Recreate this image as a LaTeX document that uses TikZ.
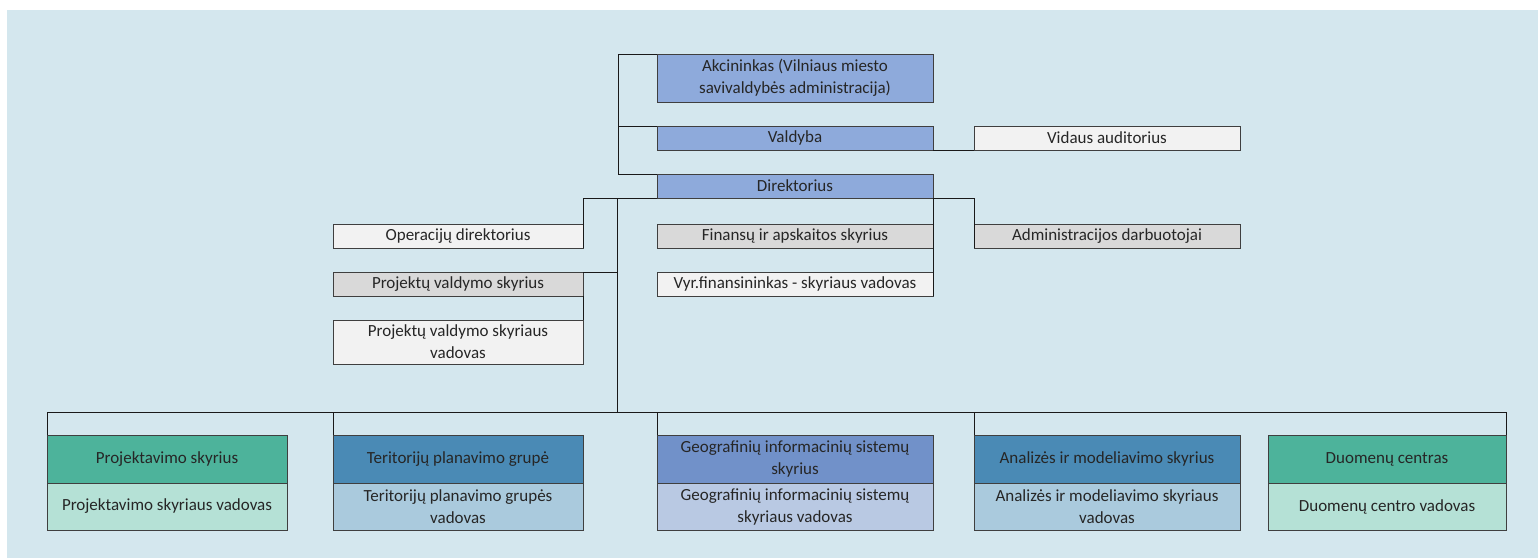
\documentclass[tikz,border=0pt]{standalone}
\usepackage{fontspec}
\setmainfont{Carlito}
\usetikzlibrary{calc}
\definecolor{bgblue}{HTML}{D4E7EE}
\definecolor{topblue}{HTML}{8EAADB}
\definecolor{wbox}{HTML}{F2F2F2}
\definecolor{gbox}{HTML}{D9D9D9}
\definecolor{teal1}{HTML}{4DB39B}
\definecolor{teal2}{HTML}{B5E1D6}
\definecolor{steel1}{HTML}{4A8AB5}
\definecolor{steel2}{HTML}{AACADD}
\definecolor{geo1}{HTML}{7191C9}
\definecolor{geo2}{HTML}{B9C9E3}
\definecolor{bordc}{HTML}{3F3F3F}
\definecolor{txt}{HTML}{262626}
\tikzset{
  box/.style={draw=bordc, line width=0.75pt, inner sep=0pt, outer sep=0pt,
    anchor=north west, align=center, text=txt,
    font=\fontsize{12.75pt}{16.5pt}\selectfont},
  conn/.style={draw=black!90, line width=0.75pt},
}
\begin{document}
\begin{tikzpicture}[x=0.75pt, y=-0.75pt]
\useasboundingbox (0,0) rectangle (1538,558);
\fill[white] (0,0) rectangle (1538,558);
\fill[bgblue] (7,10) rectangle (1538,558);

% top chain
\node[box, fill=topblue, minimum width=207pt, minimum height=36pt] (akc) at (657,54) {Akcininkas (Vilniaus miesto\\savivaldybės administracija)};
\node[box, fill=topblue, minimum width=207pt, minimum height=18pt] (val) at (657,126) {Valdyba};
\node[box, fill=wbox, minimum width=199.5pt, minimum height=18pt] (vid) at (974,126) {Vidaus auditorius};
\node[box, fill=topblue, minimum width=207pt, minimum height=18pt] (dir) at (657,174) {Direktorius};

% middle
\node[box, fill=wbox, minimum width=187.5pt, minimum height=18pt] (ope) at (333,224) {Operacijų direktorius};
\node[box, fill=gbox, minimum width=207pt, minimum height=18pt] (fin) at (657,224) {Finansų ir apskaitos skyrius};
\node[box, fill=gbox, minimum width=199.5pt, minimum height=18pt] (adm) at (974,224) {Administracijos darbuotojai};
\node[box, fill=gbox, minimum width=187.5pt, minimum height=18pt] (pvs) at (333,272) {Projektų valdymo skyrius};
\node[box, fill=wbox, minimum width=207pt, minimum height=18pt] (vyr) at (657,272) {Vyr.finansininkas - skyriaus vadovas};
\node[box, fill=wbox, minimum width=187.5pt, minimum height=33pt] (pvv) at (333,320) {Projektų valdymo skyriaus\\vadovas};

% bottom row
\node[box, fill=teal1, minimum width=180pt, minimum height=36pt] (proj) at (47,435) {Projektavimo skyrius};
\node[box, fill=teal2, minimum width=180pt, minimum height=35.25pt] (projv) at (47,483) {Projektavimo skyriaus vadovas};
\node[box, fill=steel1, minimum width=187.5pt, minimum height=36pt] (ter) at (333,435) {Teritorijų planavimo grupė};
\node[box, fill=steel2, minimum width=187.5pt, minimum height=35.25pt] (terv) at (333,483) {Teritorijų planavimo grupės\\vadovas};
\node[box, fill=geo1, minimum width=207pt, minimum height=36pt] (geo) at (657,435) {Geografinių informacinių sistemų\\skyrius};
\node[box, fill=geo2, minimum width=207pt, minimum height=35.25pt] (geov) at (657,483) {Geografinių informacinių sistemų\\skyriaus vadovas};
\node[box, fill=steel1, minimum width=199.5pt, minimum height=36pt] (ana) at (974,435) {Analizės ir modeliavimo skyrius};
\node[box, fill=steel2, minimum width=199.5pt, minimum height=35.25pt] (anav) at (974,483) {Analizės ir modeliavimo skyriaus\\vadovas};
\node[box, fill=teal1, minimum width=178.5pt, minimum height=36pt] (duo) at (1268,435) {Duomenų centras};
\node[box, fill=teal2, minimum width=178.5pt, minimum height=35.25pt] (duov) at (1268,483) {Duomenų centro vadovas};

% connectors
\draw[conn] (akc.north west) -- ++(-39,0) |- (dir.north west);
\draw[conn] (val.north west) -- ++(-39,0);
\draw[conn] (val.south east) -- (vid.south west);
\draw[conn] (dir.south west) -| (ope.south east);
\draw[conn] (dir.south east) -| (adm.south west);
\draw[conn] (dir.south east) -- (vyr.south east);
\coordinate (tr) at (617,198);
\coordinate (bus) at (617,412);
\draw[conn] (tr) |- (pvs.north east);
\draw[conn] (pvs.south east) -- (pvv.north east);
\draw[conn] (tr) -- (bus);
\draw[conn] (bus) -| (proj.north west);
\draw[conn] (bus) -| (ter.north west);
\draw[conn] (bus) -| (geo.north west);
\draw[conn] (bus) -| (ana.north west);
\draw[conn] (bus) -| (duo.north east);
\end{tikzpicture}
\end{document}
